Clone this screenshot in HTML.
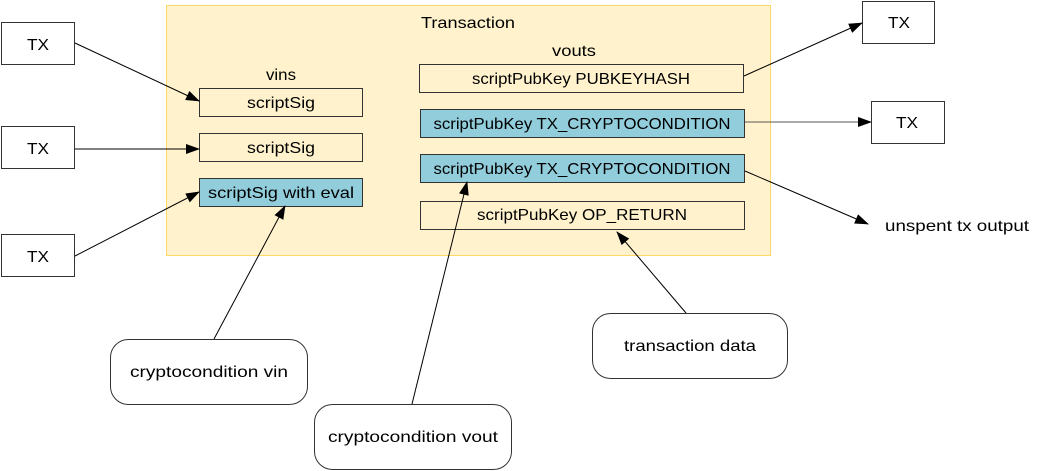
<!DOCTYPE html>
<html><head><meta charset="utf-8"><style>
html,body{margin:0;padding:0;background:#fff;}
svg{display:block;}
text{font-family:"Liberation Sans",sans-serif;font-size:16px;fill:#000;}
</style></head><body>
<svg width="1041" height="471" viewBox="0 0 1041 471" xmlns="http://www.w3.org/2000/svg">
<defs>
<marker id="a" markerWidth="14" markerHeight="10" refX="13" refY="5" orient="auto" markerUnits="userSpaceOnUse">
<path d="M0,0 L14,5 L0,10 Z" fill="#000"/>
</marker>
</defs>
<rect x="166.5" y="5.5" width="604" height="250" fill="#fff2cc" stroke="#ffd966"/>
<text x="468" y="28" text-anchor="middle" textLength="94" lengthAdjust="spacingAndGlyphs">Transaction</text>
<text x="281" y="80" text-anchor="middle" textLength="30" lengthAdjust="spacingAndGlyphs">vins</text>
<text x="574" y="56" text-anchor="middle" textLength="44" lengthAdjust="spacingAndGlyphs">vouts</text>

<g stroke="#333" stroke-width="1">
<rect x="1.5" y="22.5" width="73" height="42" fill="#fff"/>
<rect x="1.5" y="126.5" width="73" height="42" fill="#fff"/>
<rect x="1.5" y="234.5" width="73" height="42" fill="#fff"/>
<rect x="199.5" y="88.5" width="163" height="28" fill="#fff2cc"/>
<rect x="199.5" y="133.5" width="163" height="28" fill="#fff2cc"/>
<rect x="199.5" y="178.5" width="163" height="28" fill="#92cddc"/>
<rect x="419.5" y="64.5" width="324" height="28" fill="#fff2cc"/>
<rect x="420.5" y="109.5" width="324" height="28" fill="#92cddc"/>
<rect x="420.5" y="154.5" width="324" height="28" fill="#92cddc"/>
<rect x="420.5" y="201.5" width="324" height="28" fill="#fff2cc"/>
<rect x="862.5" y="1.5" width="72" height="42" fill="#fff"/>
<rect x="871.5" y="101.5" width="73" height="42" fill="#fff"/>
<rect x="110.5" y="339.5" width="197" height="65" rx="18" fill="#fff"/>
<rect x="592.5" y="313.5" width="195" height="65" rx="18" fill="#fff"/>
<rect x="314.5" y="404.5" width="197" height="65" rx="18" fill="#fff"/>
</g>

<text x="38" y="50" text-anchor="middle" textLength="22" lengthAdjust="spacingAndGlyphs">TX</text>
<text x="38" y="154" text-anchor="middle" textLength="22" lengthAdjust="spacingAndGlyphs">TX</text>
<text x="38" y="262" text-anchor="middle" textLength="22" lengthAdjust="spacingAndGlyphs">TX</text>
<text x="281" y="108" text-anchor="middle" textLength="68" lengthAdjust="spacingAndGlyphs">scriptSig</text>
<text x="281" y="153" text-anchor="middle" textLength="68" lengthAdjust="spacingAndGlyphs">scriptSig</text>
<text x="281" y="198" text-anchor="middle" textLength="146" lengthAdjust="spacingAndGlyphs">scriptSig with eval</text>
<text x="581" y="84" text-anchor="middle" textLength="218" lengthAdjust="spacingAndGlyphs">scriptPubKey PUBKEYHASH</text>
<text x="582" y="129" text-anchor="middle" textLength="297" lengthAdjust="spacingAndGlyphs">scriptPubKey TX_CRYPTOCONDITION</text>
<text x="582" y="174" text-anchor="middle" textLength="297" lengthAdjust="spacingAndGlyphs">scriptPubKey TX_CRYPTOCONDITION</text>
<text x="582" y="220" text-anchor="middle" textLength="210" lengthAdjust="spacingAndGlyphs">scriptPubKey OP_RETURN</text>
<text x="899" y="28" text-anchor="middle" textLength="22" lengthAdjust="spacingAndGlyphs">TX</text>
<text x="907" y="128" text-anchor="middle" textLength="22" lengthAdjust="spacingAndGlyphs">TX</text>
<text x="885" y="231" textLength="144" lengthAdjust="spacingAndGlyphs">unspent tx output</text>
<text x="209" y="377" text-anchor="middle" textLength="158" lengthAdjust="spacingAndGlyphs">cryptocondition vin</text>
<text x="690" y="351" text-anchor="middle" textLength="132" lengthAdjust="spacingAndGlyphs">transaction data</text>
<text x="413" y="442" text-anchor="middle" textLength="170" lengthAdjust="spacingAndGlyphs">cryptocondition vout</text>

<g stroke="#000" stroke-width="1" fill="none" marker-end="url(#a)">
<line x1="75" y1="43" x2="199" y2="101"/>
<line x1="75" y1="149" x2="199" y2="149"/>
<line x1="75" y1="256" x2="199" y2="192"/>
<line x1="214" y1="339" x2="285" y2="206"/>
<line x1="412" y1="404" x2="467" y2="182"/>
<line x1="686" y1="313" x2="617" y2="232"/>
<line x1="744" y1="76" x2="862" y2="23"/>
<line x1="745" y1="122" x2="871" y2="122" stroke="#555"/>
<line x1="745" y1="171" x2="868" y2="224"/>
</g>
</svg>
</body></html>
